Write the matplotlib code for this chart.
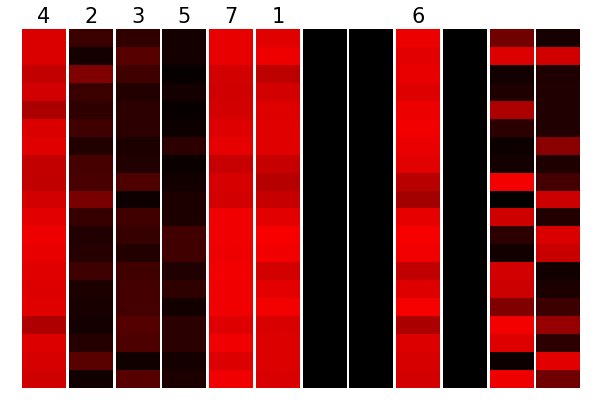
import numpy as np
import matplotlib
matplotlib.use("Agg")
import matplotlib.pyplot as plt
from matplotlib.colors import LinearSegmentedColormap

#### Column titles (blank where the reference shows none)
titles = ["4", "2", "3", "5", "7", "1", "", "", "6", "", "", ""]

#### Red intensity (0-255) of each cell, top row first
col_4 = [218, 218, 196, 210, 170, 218, 224, 196, 192, 212, 228, 238, 232, 224, 220, 224, 174, 220, 214, 206]
col_2 = [58, 20, 126, 58, 46, 64, 34, 70, 74, 120, 54, 32, 38, 62, 28, 24, 20, 36, 90, 18]
col_3 = [48, 86, 64, 34, 44, 44, 28, 32, 78, 14, 66, 54, 34, 64, 68, 68, 84, 76, 16, 86]
col_5 = [20, 20, 6, 20, 8, 12, 44, 10, 18, 28, 28, 64, 64, 32, 46, 18, 42, 42, 20, 28]
col_7 = [232, 232, 212, 208, 212, 222, 230, 198, 214, 212, 240, 240, 238, 242, 240, 240, 222, 240, 220, 240]
col_1 = [224, 238, 188, 212, 222, 224, 224, 198, 182, 198, 226, 248, 242, 212, 228, 244, 216, 220, 220, 216]
col_a = [0] * 20
col_b = [0] * 20
col_6 = [236, 228, 232, 222, 236, 242, 234, 226, 184, 164, 230, 246, 242, 192, 222, 246, 172, 220, 214, 212]
col_c = [0] * 20
col_d = [114, 220, 18, 30, 172, 44, 12, 20, 244, 4, 206, 44, 18, 210, 204, 128, 244, 222, 12, 238]
col_e = [22, 208, 30, 32, 32, 32, 138, 30, 68, 204, 34, 218, 200, 18, 28, 60, 150, 44, 226, 112]

columns = [col_4, col_2, col_3, col_5, col_7, col_1, col_a, col_b, col_6, col_c, col_d, col_e]

cmap = LinearSegmentedColormap.from_list("blackred", [(0, 0, 0), (1, 0, 0)])

fig, axes = plt.subplots(1, len(columns), figsize=(6, 4), dpi=100)
fig.subplots_adjust(left=0.037, right=0.967, top=0.9275, bottom=0.03, wspace=0.068)

for ax, vals, t in zip(axes, columns, titles):
    ax.imshow(np.array(vals).reshape(-1, 1), cmap=cmap, vmin=0, vmax=255,
              aspect="auto", interpolation="nearest")
    ax.set_title(t, fontsize=15, pad=4)
    ax.axis("off")

plt.savefig("out.png")
